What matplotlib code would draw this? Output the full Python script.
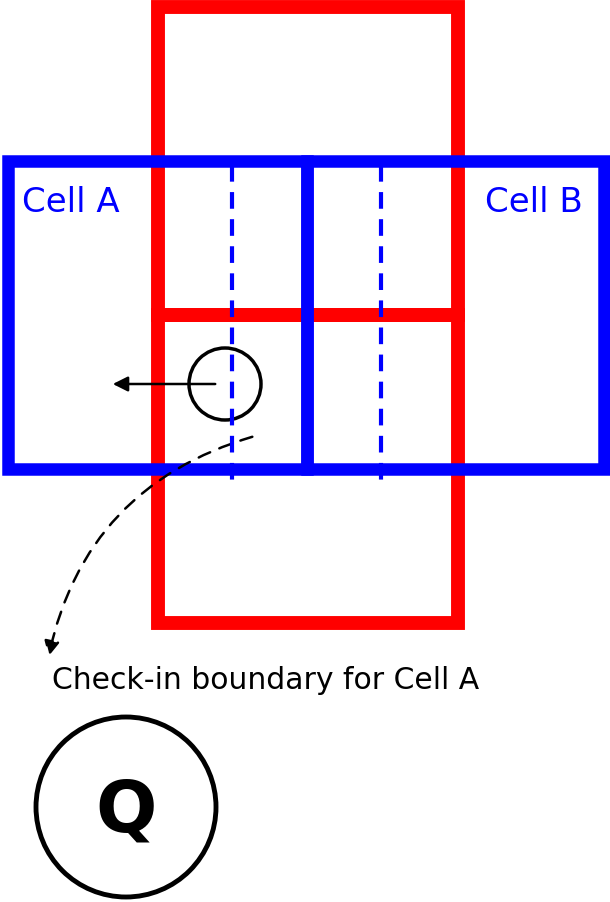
import matplotlib.pyplot as plt
from matplotlib.patches import Rectangle, Circle, FancyArrowPatch

# boxes in pixel units: (x, y, w, h)
red_boxes = [(158, 8, 300, 308), (158, 316, 300, 308)]
blue_boxes = [(8, 162, 299, 308), (307, 162, 297, 308)]
dashed_x = [232, 381]
cell_labels = ["Cell A", "Cell B"]

fig = plt.figure(figsize=(6.1, 9.03), dpi=100)
ax = fig.add_axes([0, 0, 1, 1])
ax.set_xlim(0, 610)
ax.set_ylim(903, 0)
ax.axis("off")

for x, y, w, h in red_boxes:
    ax.add_patch(Rectangle((x, y), w, h, fill=False, ec="#ff0000", lw=10))
for x, y, w, h in blue_boxes:
    ax.add_patch(Rectangle((x, y), w, h, fill=False, ec="#0000ff", lw=9))
for x in dashed_x:
    ax.plot([x, x], [166, 485], color="#0000ff", lw=3, ls=(0, (4, 2.5)))

ax.text(22, 203, cell_labels[0], color="#0000ff", fontsize=24.5, va="center")
ax.text(583, 203, cell_labels[1], color="#0000ff", fontsize=24.5, va="center", ha="right")

ax.add_patch(Circle((225, 385), 36, fill=False, ec="black", lw=2.5))
ax.add_patch(FancyArrowPatch((218, 385), (110, 385), arrowstyle="-|>,head_length=6,head_width=3",
                             color="black", lw=1.8, mutation_scale=1.5))
ax.add_patch(FancyArrowPatch((255, 437), (48, 660), connectionstyle="arc3,rad=0.3",
                             arrowstyle="-|>,head_length=6,head_width=3", color="black",
                             lw=1.8, ls=(0, (5, 4)), mutation_scale=1.5))
ax.text(52, 681, "Check-in boundary for Cell A", fontsize=21.5, va="center")

ax.add_patch(Circle((126, 808), 90, fill=False, ec="black", lw=3.5))
ax.text(126, 812, "Q", fontsize=52, fontweight="bold", ha="center", va="center")

fig.savefig("out.png", dpi=100)
